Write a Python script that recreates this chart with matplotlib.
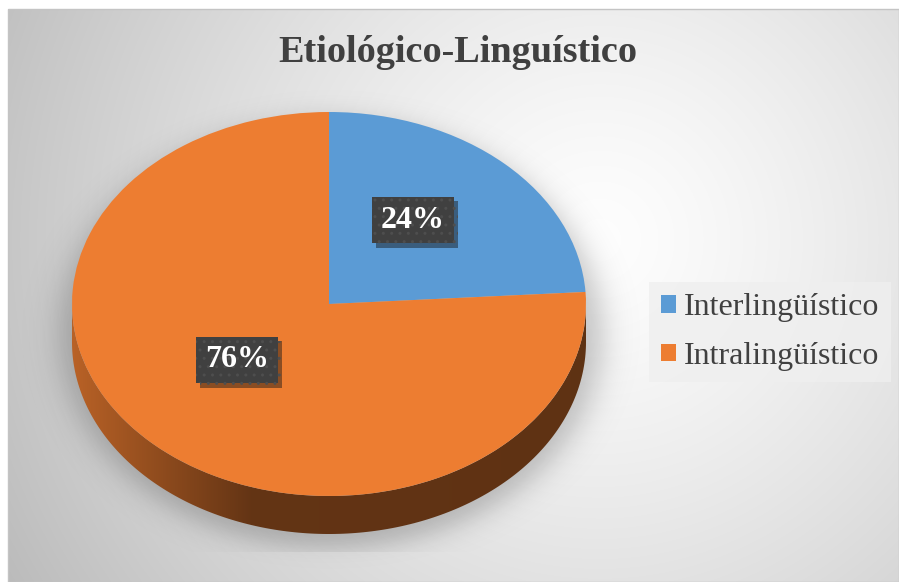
import numpy as np
import matplotlib
matplotlib.use("Agg")
import matplotlib.pyplot as plt
import matplotlib.patheffects as pe
from matplotlib.path import Path
from matplotlib.patches import PathPatch, Rectangle
from matplotlib.transforms import ScaledTranslation

# data
categories = ["Interlingüístico", "Intralingüístico"]
values = [24, 76]
colors = ["#5b9bd5", "#ed7d31"]
title = "Etiológico-Linguístico"

W, H = 899, 582
serif = "Liberation Serif"
txt_col = "#404040"

fig = plt.figure(figsize=(W / 100, H / 100), dpi=100)

# background with radial gradient
bg = fig.add_axes([0, 0, 1, 1])
bg.set_xlim(0, W)
bg.set_ylim(H, 0)
bg.axis("off")
yy, xx = np.mgrid[0:H, 0:W] + 0.5
r = np.hypot(xx - 600, yy - 240)
v = np.clip(0.995 - 0.23 * (r / 620) ** 1.3, 0, 1)
img = np.dstack([v, v, v])
img[(xx < 8) | (yy < 9)] = 1.0
bg.imshow(img, extent=(0, W, H, 0), aspect="auto", zorder=0)
bg.add_patch(Rectangle((8, 9), W - 8, H - 9, fill=False, edgecolor="#c4c4c4", lw=1, zorder=1))

# pie geometry (pixels)
cx, cy, rx, ry, depth = 329, 304, 257, 192, 38
dz = depth / ry

# soft shadow under the pie
d = np.hypot((xx - cx - 2) / (rx + 14), (yy - cy - 30) / (ry + 22))
sh = 0.22 / (1 + np.exp((d - 1) / 0.035))
sh[yy > 552] *= 0.3
shadow = np.zeros((H, W, 4))
shadow[..., 3] = sh
bg.imshow(shadow, extent=(0, W, H, 0), aspect="auto", zorder=2)

pax = fig.add_axes([(cx - rx) / W, 1 - (cy + ry + depth) / H, 2 * rx / W, (2 * ry + depth) / H])
wedges, texts, autotexts = pax.pie(
    values, colors=colors, startangle=90, counterclock=False,
    autopct=lambda p: f"{p:.0f}%", pctdistance=0.5,
    wedgeprops=dict(linewidth=0),
    textprops=dict(color="white", fontsize=23, fontweight="bold", family=serif),
)

# side of the 3D pie
gx = np.linspace(-1, 1, 300)
shade = np.interp(gx, [-1, -0.3, 1], [0.78, 0.42, 0.40])
for w, col in zip(wedges, colors):
    t1, t2 = w.theta1, w.theta2
    for k in (-1, 0, 1):
        a = max(t1, -180 + 360 * k)
        b = min(t2, 360 * k)
        if b <= a:
            continue
        th = np.radians(np.linspace(a, b, 200))
        top = np.column_stack([np.cos(th), np.sin(th)])
        bot = np.column_stack([np.cos(th[::-1]), np.sin(th[::-1]) - dz])
        verts = np.vstack([top, bot, top[:1]])
        path = Path(verts, closed=True)
        patch = PathPatch(path, facecolor="none", edgecolor="none", zorder=0.5)
        pax.add_patch(patch)
        base = np.array(matplotlib.colors.to_rgb(col))
        grad = shade[None, :, None] * base[None, None, :]
        im = pax.imshow(np.repeat(grad, 2, axis=0), extent=(-1, 1, -1 - dz, 1),
                        aspect="auto", zorder=0.5)
        im.set_clip_path(patch)

pax.set_xlim(-1, 1)
pax.set_ylim(-1 - dz, 1)
pax.set_aspect("auto")
pax.axis("off")

for t in autotexts:
    t.set_transform(t.get_transform() + ScaledTranslation(-0.04, 0.14, fig.dpi_scale_trans))
    t.set_bbox(dict(boxstyle="square,pad=0.28", facecolor="#404040", edgecolor="#4e4e4e",
                    hatch="..", linewidth=0))
    t.get_bbox_patch().set_path_effects([pe.withSimplePatchShadow(offset=(3, -3), alpha=0.45)])

fig.text(458 / W, 1 - 52 / H, title, ha="center", va="center", fontsize=27.5,
         fontweight="bold", family=serif, color=txt_col)

leg = fig.legend(wedges, categories, loc="center left", bbox_to_anchor=(649 / W, 1 - 332 / H),
                 prop=dict(family=serif, size=23), handlelength=0.47, handleheight=0.47,
                 handletextpad=0.27, labelspacing=0.62, borderpad=0.36, borderaxespad=0,
                 fancybox=False, facecolor="#efefef", edgecolor="none", framealpha=0.8)
for t in leg.get_texts():
    t.set_color(txt_col)

fig.savefig("out.png", dpi=100)
